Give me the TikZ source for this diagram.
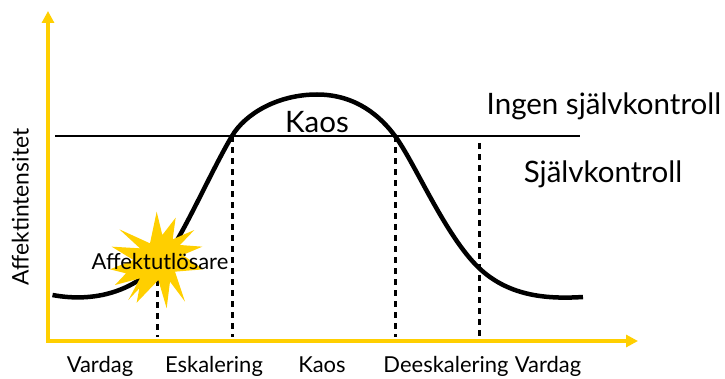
\documentclass[tikz,border=0pt]{standalone}
\usepackage{xcolor}
\usepackage{fontspec}
\setmainfont{Lato}
\usetikzlibrary{arrows.meta, positioning, calc}
\definecolor{myyellow}{RGB}{255,207,0}
\tikzset{
  axisline/.style={-{Triangle[length=0.24cm,width=0.24cm]}, line width=0.075cm, color=myyellow},
  curveline/.style={line width=0.09cm, color=black},
  limitline/.style={line width=0.05cm, color=black},
  dropline/.style={line width=0.06cm, color=black, dash pattern=on 0.12cm off 0.10cm},
  phaselabel/.style={font=\fontsize{12.5}{15}\selectfont, inner sep=0pt, text height=0.3cm, text depth=0.09cm},
  biglabel/.style={font=\fontsize{16.8}{20}\selectfont, inner sep=0pt, text height=0.4cm, text depth=0.12cm}
}
\begin{document}
\begin{tikzpicture}
  \useasboundingbox (0,0) rectangle (14.5,7.56);
  % axes
  \coordinate (origin) at (0.96,0.74);
  \coordinate (ytip) at (0.96,7.34);
  \coordinate (xtip) at (12.76,0.74);
  \draw[axisline] (origin) -- (ytip);
  \draw[axisline] ($(origin)+(-0.04,0)$) -- (xtip);
  % points where the drop lines start
  \coordinate (trigger) at (3.14,1.96);
  \coordinate (enter) at (4.64,4.84);
  \coordinate (leave) at (7.90,4.84);
  \coordinate (calm) at (9.58,4.70);
  \foreach \p in {trigger,enter,leave,calm}
    \draw[dropline] (\p) -- ($(\p |- origin)+(0,0.08)$);
  % limit and curve
  \coordinate (limitl) at (1.10,4.84);
  \coordinate (limitr) at (11.60,4.84);
  \draw[limitline] (limitl) -- (limitr);
  \draw[curveline] (1.05,1.66) .. controls (1.90,1.50) and (2.95,1.70) .. (3.60,2.86)
    .. controls (3.93,3.45) and (4.32,4.30) .. (4.64,4.84)
    .. controls (4.90,5.28) and (5.55,5.67) .. (6.34,5.67)
    .. controls (7.13,5.67) and (7.62,5.22) .. (7.90,4.84)
    .. controls (8.30,4.30) and (8.90,2.85) .. (9.58,2.20)
    .. controls (10.20,1.61) and (11.00,1.58) .. (11.66,1.62);
  % burst
  \fill[myyellow] (470/150,3.96-95/150)
    -- (487/150,3.96-165/150) -- (527/150,3.96-113/150) -- (518/150,3.96-178/150)
    -- (583/150,3.96-150/150) -- (540/150,3.96-195/150) -- (607/150,3.96-200/150)
    -- (548/150,3.96-225/150) -- (610/150,3.96-268/150) -- (525/150,3.96-275/150)
    -- (555/150,3.96-365/150) -- (510/150,3.96-305/150) -- (500/150,3.96-385/150)
    -- (475/150,3.96-300/150) -- (410/150,3.96-368/150) -- (418/150,3.96-325/150)
    -- (385/150,3.96-360/150) -- (420/150,3.96-295/150) -- (345/150,3.96-315/150)
    -- (378/150,3.96-280/150) -- (330/150,3.96-268/150) -- (400/150,3.96-240/150)
    -- (335/150,3.96-200/150) -- (420/150,3.96-205/150) -- (358/150,3.96-148/150)
    -- (450/150,3.96-190/150) -- cycle;
  % labels
  \node[phaselabel] (trig) at (3.20,2.28) {Affektutlösare};
  \node[phaselabel, rotate=90, font=\fontsize{13}{15}\selectfont] (yname) at (0.47,3.42) {Affektintensitet};
  \node[biglabel] (chaos) at (6.34,5.05) {Kaos};
  \node[biglabel] (nocontrol) at (12.08,5.40) {Ingen självkontroll};
  \node[biglabel] (control) at (12.06,4.06) {Självkontroll};
  \node[phaselabel] (day) at (2.00,0.22) {Vardag};
  \node[phaselabel] (esc) at (4.28,0.22) {Eskalering};
  \node[phaselabel] (peak) at (6.44,0.22) {Kaos};
  \node[phaselabel] (deesc) at (8.92,0.22) {Deeskalering};
  \node[phaselabel] (dayb) at (10.96,0.22) {Vardag};
\end{tikzpicture}
\end{document}
